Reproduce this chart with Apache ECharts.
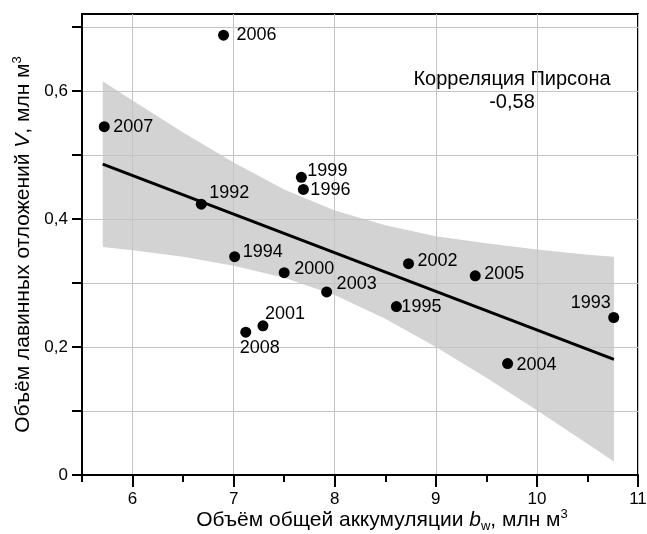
<!DOCTYPE html>
<html><head><meta charset="utf-8">
<script src="https://cdn.jsdelivr.net/npm/echarts@6/dist/echarts.min.js"></script>
<style>html,body{margin:0;padding:0;background:#fff}#c{width:647px;height:534px}</style>
</head><body><div id="c"></div>
<script>
// ---- data ----
const years = ['2006','2007','1992','1999','1996','1994','2000','2003','2002','2001','2008','2005','1995','1993','2004'];
const accumulation = [6.90,5.72,6.68,7.67,7.69,7.01,7.50,7.92,8.73,7.29,7.12,9.39,8.61,10.76,9.71];
const avalanche = [0.687,0.544,0.423,0.465,0.446,0.341,0.316,0.286,0.330,0.233,0.223,0.311,0.263,0.246,0.174];
const trendX = [5.705, 10.762];
const trendY = [0.4855, 0.1806];
const bandX = [5.705,6.0,6.5,7.0,7.5,8.0,8.5,9.0,9.5,10.0,10.5,10.762];
const bandUpper = [0.615,0.585,0.535,0.488,0.446,0.413,0.390,0.373,0.362,0.352,0.344,0.341];
const bandLower = [0.356,0.351,0.341,0.327,0.308,0.281,0.244,0.200,0.152,0.101,0.049,0.021];
const xLabelValues = [6,7,8,9,10,11];
const xHalfTicks = [5.5,6.5,7.5,8.5,9.5,10.5];
const yTickValues = [0,0.1,0.2,0.3,0.4,0.5,0.6,0.7];
const yLabelValues = [0,0.2,0.4,0.6];
const pearsonTitle = 'Корреляция Пирсона';
const pearsonValue = '-0,58';

// ---- label placement (style) ----
const labelOffset = {
  '2006':[33,0],'2007':[29,0],'1992':[28,-11],'1999':[26,-6],'1996':[27,1],
  '1994':[28,-5],'2000':[30,-4],'2003':[30,-8],'2002':[29,-3],'2001':[22,-12],
  '2008':[14,16],'2005':[29,-2],'1995':[25,0],'1993':[-23,-14],'2004':[29,1]
};

const FONT = '"Liberation Sans", Arial, sans-serif';
const chart = echarts.init(document.getElementById('c'), null, {renderer:'canvas'});

const scatterData = years.map((y,i)=>({
  value:[accumulation[i], avalanche[i]],
  name:y,
  label:{show:true, position:'inside', offset:labelOffset[y], formatter:y,
         color:'#000', fontSize:18, fontFamily:FONT}
}));

const bandPoly = bandX.map((x,i)=>[x,bandUpper[i]]).concat(
  bandX.map((x,i)=>[x,bandLower[i]]).reverse());

const titleRich = {
  n:{fontSize:21, fontFamily:FONT, color:'#000', lineHeight:25},
  i:{fontSize:21, fontFamily:FONT, color:'#000', fontStyle:'italic', lineHeight:25},
  s:{fontSize:13, fontFamily:FONT, color:'#000', verticalAlign:'bottom', lineHeight:13},
  sup:{fontSize:13, fontFamily:FONT, color:'#000', verticalAlign:'top', lineHeight:13}
};

chart.setOption({
  animation:false,
  backgroundColor:'#fff',
  grid:{left:82, right:9, top:14, bottom:59, show:true, borderColor:'#000', borderWidth:2,
        backgroundColor:'transparent', outerBoundsMode:'none', containLabel:false},
  xAxis:[{
    type:'value', min:5.5, max:11, interval:0.5, position:'bottom',
    axisLine:{show:true, onZero:false, lineStyle:{color:'#000', width:2}},
    axisTick:{show:true, customValues:xLabelValues, length:12, lineStyle:{color:'#000', width:2}},
    axisLabel:{customValues:xLabelValues, margin:16, fontSize:17, fontFamily:FONT, color:'#000',
               formatter:v=>String(v)},
    splitLine:{show:true, lineStyle:{color:'#c4c4c4', width:1}},
    name:'{n|Объём общей аккумуляции }{i|b}{s|w}{n|, млн м}{sup|3}',
    nameLocation:'middle', nameGap:33, nameMoveOverlap:false,
    nameTextStyle:{rich:titleRich, padding:[0,0,0,44]}
  },{
    type:'value', min:5.5, max:11, interval:0.5, position:'bottom',
    axisLine:{show:false, onZero:false},
    axisTick:{show:true, customValues:xHalfTicks, length:7, lineStyle:{color:'#000', width:2}},
    axisLabel:{show:false},
    splitLine:{show:false}
  }],
  yAxis:{
    type:'value', min:0, max:0.72, interval:0.1,
    axisLine:{show:true, onZero:false, lineStyle:{color:'#000', width:2}},
    axisTick:{show:true, customValues:yTickValues, length:10, lineStyle:{color:'#000', width:2}},
    axisLabel:{customValues:yLabelValues, margin:14, fontSize:17, fontFamily:FONT, color:'#000',
               formatter:v=> v===0 ? '0' : v.toFixed(1).replace('.',',')},
    splitLine:{show:true, lineStyle:{color:'#c4c4c4', width:1}},
    name:'{n|Объём лавинных отложений }{i|V}{n|, млн м}{sup|3}',
    nameLocation:'middle', nameGap:46, nameMoveOverlap:false,
    nameTextStyle:{rich:titleRich}
  },
  graphic:[
    {type:'text', x:512, y:91, style:{text:pearsonTitle+'\n'+pearsonValue, textAlign:'center', textVerticalAlign:'middle',
      fontSize:20, lineHeight:23, fontFamily:FONT, fill:'#000'}}
  ],
  series:[
    {type:'custom', z:-1, silent:true, data:[0],
     renderItem:(params, api)=>({
       type:'polygon',
       shape:{points:bandPoly.map(p=>api.coord(p))},
       style:{fill:'#d3d3d3', stroke:'none'}
     })},
    {type:'line', data:trendX.map((x,i)=>[x,trendY[i]]), symbol:'none', silent:true,
     lineStyle:{color:'#000', width:3}},
    {type:'scatter', data:scatterData, symbol:'circle', symbolSize:11,
     itemStyle:{color:'#000', opacity:1}}
  ]
});
</script></body></html>
